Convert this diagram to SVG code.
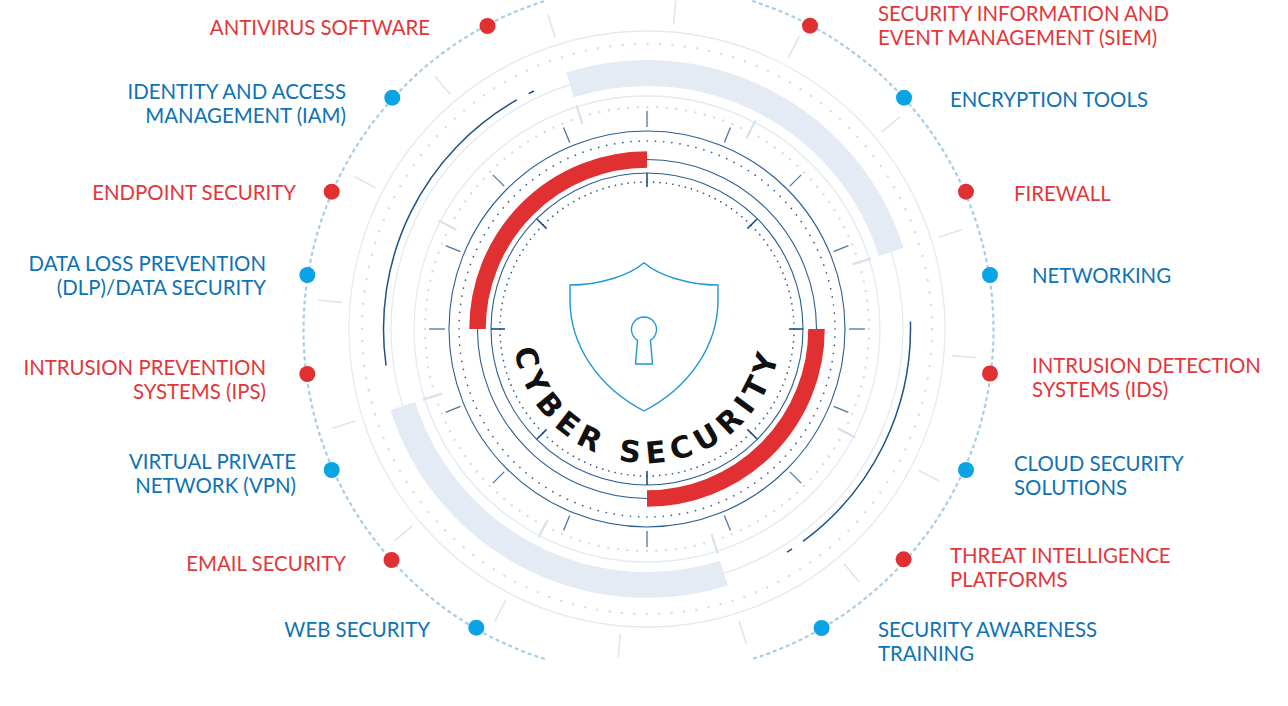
<svg xmlns="http://www.w3.org/2000/svg" xmlns:xlink="http://www.w3.org/1999/xlink" width="1288" height="706" viewBox="0 0 1288 706">
<defs>
<style>
.lbl{font-family:Lato,"Liberation Sans",sans-serif;font-size:20.4px;}
.tr{fill:#e2373a;}
.tb{fill:#0e72b4;}
.dr{fill:#e03032;}
.db{fill:#0aa3e3;}
.L{text-anchor:end;}
.R{text-anchor:start;}
.lc{fill:none;stroke:#e3eaf2;stroke-width:1.3;}
.fd{fill:none;stroke:#d3dde9;stroke-width:2.4;stroke-linecap:round;}
.dk{fill:none;stroke:#2b5e91;stroke-width:1.1;}
.dd{fill:none;stroke:#2b5e91;stroke-width:1.7;stroke-linecap:round;}
.band{fill:none;stroke:#e5ebf4;stroke-width:26;}
.red{fill:none;stroke:#e03032;stroke-width:16.5;}
.darc{fill:none;stroke:#1f5285;stroke-width:1.5;}
.mt{stroke:#4d77a1;stroke-width:1.3;}
.it{stroke:#1f4f80;stroke-width:1.6;}
.lt{stroke:#d7e2ed;stroke-width:2.2;}
.ot{stroke:#dde6ef;stroke-width:1.6;}
</style>
<line id="mtick" class="mt" x1="849" y1="329" x2="865" y2="329"/>
<line id="itick" class="it" x1="789" y1="329" x2="803" y2="329"/>
<line id="ltick" class="lt" x1="862" y1="329" x2="882" y2="329"/>
<line id="otick" class="ot" x1="953" y1="329" x2="977" y2="329"/>
<path id="cyberPath" d="M513.51,340.68 A134,134 0 0 0 780.49,340.68"/>
</defs>

<g id="rings">
<circle class="lc" cx="647" cy="329" r="298"/>
<circle class="lc" cx="647" cy="329" r="256"/>
<circle class="lc" cx="647" cy="329" r="233"/>
<circle class="fd" cx="647" cy="329" r="285" stroke-dasharray="0.01 12.425"/>
<circle class="fd" cx="647" cy="329" r="222" stroke-dasharray="0.01 9.677"/>
<path class="band" d="M570.02,84.85 A256,256 0 0 1 891.15,252.02"/>
<path class="band" d="M723.98,573.15 A256,256 0 0 1 402.85,405.98"/>
<g id="outer-ticks">
<use xlink:href="#otick" transform="rotate(-17.5 647 329)"/>
<use xlink:href="#otick" transform="rotate(5 647 329)"/>
<use xlink:href="#otick" transform="rotate(27.5 647 329)"/>
<use xlink:href="#otick" transform="rotate(50 647 329)"/>
<use xlink:href="#otick" transform="rotate(72.5 647 329)"/>
<use xlink:href="#otick" transform="rotate(95 647 329)"/>
<use xlink:href="#otick" transform="rotate(117.5 647 329)"/>
<use xlink:href="#otick" transform="rotate(140 647 329)"/>
<use xlink:href="#otick" transform="rotate(162.5 647 329)"/>
<use xlink:href="#otick" transform="rotate(185 647 329)"/>
<use xlink:href="#otick" transform="rotate(207.5 647 329)"/>
<use xlink:href="#otick" transform="rotate(230 647 329)"/>
<use xlink:href="#otick" transform="rotate(252.5 647 329)"/>
<use xlink:href="#otick" transform="rotate(275 647 329)"/>
<use xlink:href="#otick" transform="rotate(297.5 647 329)"/>
<use xlink:href="#otick" transform="rotate(320 647 329)"/>
</g>
<g id="light-ticks">
<use xlink:href="#ltick" transform="rotate(-17.5 647 329)"/>
<use xlink:href="#ltick" transform="rotate(27.5 647 329)"/>
<use xlink:href="#ltick" transform="rotate(72.5 647 329)"/>
<use xlink:href="#ltick" transform="rotate(117.5 647 329)"/>
<use xlink:href="#ltick" transform="rotate(162.5 647 329)"/>
<use xlink:href="#ltick" transform="rotate(207.5 647 329)"/>
<use xlink:href="#ltick" transform="rotate(252.5 647 329)"/>
<use xlink:href="#ltick" transform="rotate(297.5 647 329)"/>
</g>
<g id="mid-ticks">
<use xlink:href="#mtick"/>
<use xlink:href="#mtick" transform="rotate(22.5 647 329)"/>
<use xlink:href="#mtick" transform="rotate(45 647 329)"/>
<use xlink:href="#mtick" transform="rotate(67.5 647 329)"/>
<use xlink:href="#mtick" transform="rotate(90 647 329)"/>
<use xlink:href="#mtick" transform="rotate(112.5 647 329)"/>
<use xlink:href="#mtick" transform="rotate(135 647 329)"/>
<use xlink:href="#mtick" transform="rotate(157.5 647 329)"/>
<use xlink:href="#mtick" transform="rotate(180 647 329)"/>
<use xlink:href="#mtick" transform="rotate(202.5 647 329)"/>
<use xlink:href="#mtick" transform="rotate(225 647 329)"/>
<use xlink:href="#mtick" transform="rotate(247.5 647 329)"/>
<use xlink:href="#mtick" transform="rotate(270 647 329)"/>
<use xlink:href="#mtick" transform="rotate(292.5 647 329)"/>
<use xlink:href="#mtick" transform="rotate(315 647 329)"/>
<use xlink:href="#mtick" transform="rotate(337.5 647 329)"/>
</g>
<path class="darc" d="M386.06,365.67 A263.5,263.5 0 0 1 516.85,99.89"/>
<path class="darc" d="M528.6,93.6 A263.5,263.5 0 0 1 534.0,91.0"/>
<path class="darc" d="M910.4,321.64 A263.5,263.5 0 0 1 803.0,541.36"/>
<path class="darc" d="M792.05,548.98 A263.5,263.5 0 0 1 787.02,552.22"/>
<circle class="dk" cx="647" cy="329" r="198"/>
<circle class="dd" cx="647" cy="329" r="188" stroke-dasharray="0.01 8.193"/>
<circle class="dk" cx="647" cy="329" r="169.5"/>
<circle class="dk" cx="647" cy="329" r="156"/>
<circle class="dd" cx="647" cy="329" r="147" stroke-dasharray="0.01 6.404"/>
<g id="inner-ticks">
<use xlink:href="#itick"/>
<use xlink:href="#itick" transform="rotate(45 647 329)"/>
<use xlink:href="#itick" transform="rotate(90 647 329)"/>
<use xlink:href="#itick" transform="rotate(135 647 329)"/>
<use xlink:href="#itick" transform="rotate(180 647 329)"/>
<use xlink:href="#itick" transform="rotate(225 647 329)"/>
<use xlink:href="#itick" transform="rotate(270 647 329)"/>
<use xlink:href="#itick" transform="rotate(315 647 329)"/>
</g>
<path class="red" d="M477.5,329 A169.5,169.5 0 0 1 647,159.5"/>
<path class="red" d="M816.5,329 A169.5,169.5 0 0 1 647,498.5"/>
</g>

<g id="center">
<path d="M644,262.7 C630,275 600,285 570,285 L570,300 C570,345 598,387 644,411 C690,387 718,345 718,300 L718,285 C688,285 658,275 644,262.7 Z" fill="none" stroke="#1c98d4" stroke-width="1.4" stroke-linejoin="round"/>
<path d="M637.5,340.2 A12.5,12.5 0 1 1 650.5,340.2 L652.5,364 L635.5,364 Z" fill="none" stroke="#1c98d4" stroke-width="1.4" stroke-linejoin="round"/>
<text font-family="'DejaVu Sans',sans-serif" font-weight="bold" font-size="30" fill="#111111" letter-spacing="6.7"><textPath xlink:href="#cyberPath" startOffset="50%" text-anchor="middle">CYBER SECURITY</textPath></text>
</g>

<g id="connectors">
<path d="M544.75,659.03 A345,345 0 0 1 544.75,0.97" fill="none" stroke="#a9cde6" stroke-width="2.2" stroke-dasharray="4 3"/>
<path d="M752.25,0.97 A345,345 0 0 1 752.25,659.03" fill="none" stroke="#a9cde6" stroke-width="2.2" stroke-dasharray="4 3"/>
</g>

<g id="n-antivirus"><circle class="dr" cx="487.5" cy="26" r="8"/><text class="lbl tr L" x="430" y="34.5">ANTIVIRUS SOFTWARE</text></g>
<g id="n-iam"><circle class="db" cx="392.3" cy="97.7" r="8"/><text class="lbl tb L" x="346" y="99">IDENTITY AND ACCESS</text><text class="lbl tb L" x="346" y="123">MANAGEMENT (IAM)</text></g>
<g id="n-endpoint"><circle class="dr" cx="331.7" cy="191.7" r="8"/><text class="lbl tr L" x="296" y="200">ENDPOINT SECURITY</text></g>
<g id="n-dlp"><circle class="db" cx="307.3" cy="275" r="8"/><text class="lbl tb L" x="266" y="270.5">DATA LOSS PREVENTION</text><text class="lbl tb L" x="266" y="294.5">(DLP)/DATA SECURITY</text></g>
<g id="n-ips"><circle class="dr" cx="307.3" cy="374" r="8"/><text class="lbl tr L" x="266" y="374.5">INTRUSION PREVENTION</text><text class="lbl tr L" x="266" y="398.5">SYSTEMS (IPS)</text></g>
<g id="n-vpn"><circle class="db" cx="331.7" cy="470" r="8"/><text class="lbl tb L" x="296" y="468.5">VIRTUAL PRIVATE</text><text class="lbl tb L" x="296" y="492.5">NETWORK (VPN)</text></g>
<g id="n-email"><circle class="dr" cx="391.5" cy="560" r="8"/><text class="lbl tr L" x="346" y="570.5">EMAIL SECURITY</text></g>
<g id="n-web"><circle class="db" cx="476.3" cy="627.7" r="8"/><text class="lbl tb L" x="430" y="636.5">WEB SECURITY</text></g>

<g id="n-siem"><circle class="dr" cx="810" cy="25.7" r="8"/><text class="lbl tr R" x="878" y="20.5">SECURITY INFORMATION AND</text><text class="lbl tr R" x="878" y="44.5">EVENT MANAGEMENT (SIEM)</text></g>
<g id="n-encryption"><circle class="db" cx="904" cy="97.7" r="8"/><text class="lbl tb R" x="950" y="106.5">ENCRYPTION TOOLS</text></g>
<g id="n-firewall"><circle class="dr" cx="966" cy="191.7" r="8"/><text class="lbl tr R" x="1014" y="200.5">FIREWALL</text></g>
<g id="n-networking"><circle class="db" cx="990" cy="275" r="8"/><text class="lbl tb R" x="1032" y="282.5">NETWORKING</text></g>
<g id="n-ids"><circle class="dr" cx="990" cy="373.5" r="8"/><text class="lbl tr R" x="1032" y="372.5">INTRUSION DETECTION</text><text class="lbl tr R" x="1032" y="396.5">SYSTEMS (IDS)</text></g>
<g id="n-cloud"><circle class="db" cx="966" cy="470" r="8"/><text class="lbl tb R" x="1014" y="470.5">CLOUD SECURITY</text><text class="lbl tb R" x="1014" y="494.5">SOLUTIONS</text></g>
<g id="n-threat"><circle class="dr" cx="903.6" cy="559.3" r="8"/><text class="lbl tr R" x="950" y="562.5">THREAT INTELLIGENCE</text><text class="lbl tr R" x="950" y="586.5">PLATFORMS</text></g>
<g id="n-awareness"><circle class="db" cx="821.6" cy="628" r="8"/><text class="lbl tb R" x="878" y="636.5">SECURITY AWARENESS</text><text class="lbl tb R" x="878" y="660.5">TRAINING</text></g>
</svg>
